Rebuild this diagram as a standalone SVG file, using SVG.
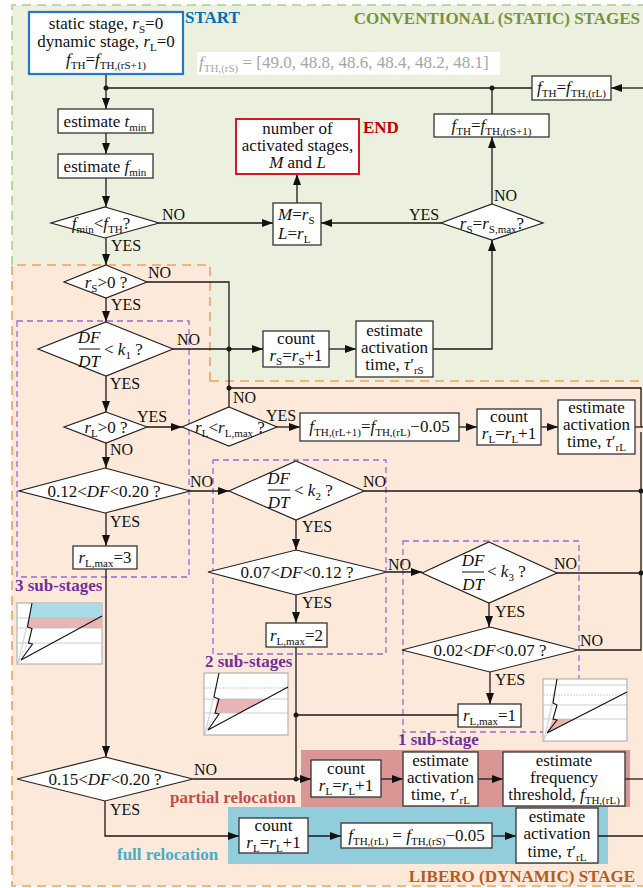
<svg xmlns="http://www.w3.org/2000/svg" width="643" height="888" viewBox="0 0 643 888">
<style>
.t{font-family:"Liberation Serif","Times New Roman",serif;font-size:17px;fill:#111;text-anchor:middle}
.ts{font-family:"Liberation Serif","Times New Roman",serif;font-size:17px;fill:#111}
.l{font-family:"Liberation Serif","Times New Roman",serif;font-size:16px;fill:#111}
.b{font-family:"Liberation Serif","Times New Roman",serif;font-size:17px;font-weight:bold}
.i{font-style:italic}
.s{font-size:11px}
.box{fill:#fff;stroke:#333;stroke-width:1.3}
.dia{fill:#fff;stroke:#222;stroke-width:1.2}
.ln{fill:none;stroke:#1a1a1a;stroke-width:1.3}
.ar{fill:none;stroke:#1a1a1a;stroke-width:1.3;marker-end:url(#a)}
.dot{fill:#1a1a1a}
.pur{fill:none;stroke:#9b6bd0;stroke-width:1.3;stroke-dasharray:6 4}
.grid{stroke:#bfbfbf;stroke-width:0.8;fill:none}
.fan{stroke:#c8c8c8;stroke-width:0.6;fill:none}
.chart{fill:#fff;stroke:#a6a6a6;stroke-width:1}
.zig{fill:none;stroke:#111;stroke-width:1.1}
</style>
<defs>
<marker id="a" viewBox="0 0 11 8" refX="11" refY="4" markerWidth="11" markerHeight="8" markerUnits="userSpaceOnUse" orient="auto"><path d="M0,0L11,4L0,8z" fill="#111"/></marker>
</defs>

<g id="backgrounds">
<rect x="12" y="5" width="631" height="376" fill="#ebf1de"/>
<path d="M12,265H210V381H643V886H12Z" fill="#fde9d9"/>
<path d="M12,265V5H643" fill="none" stroke="#a9d08e" stroke-width="1.6" stroke-dasharray="9 6"/>
<path d="M210,381V265H12V886H643M210,381H643" fill="none" stroke="#f2a15e" stroke-width="1.6" stroke-dasharray="9 6"/>
<rect x="301" y="750" width="329" height="57" fill="#d99694"/>
<rect x="228" y="807" width="380" height="57" fill="#92cddc"/>
<rect x="17" y="321" width="172" height="256" class="pur"/>
<rect x="213" y="460" width="173" height="194" class="pur"/>
<rect x="403" y="541" width="176" height="191" class="pur"/>
<rect x="197" y="52" width="303" height="23" fill="#fff"/>
</g>

<g id="titles">
<text x="185" y="23" class="b" fill="#0070c0">START</text>
<text x="640" y="24" class="b" fill="#76923c" text-anchor="end">CONVENTIONAL (STATIC) STAGES</text>
<text x="363" y="133" class="b" fill="#c00000">END</text>
<text x="15" y="591" class="b" fill="#7030a0">3 sub-stages</text>
<text x="205" y="667" class="b" fill="#7030a0">2 sub-stages</text>
<text x="398" y="745" class="b" fill="#7030a0">1 sub-stage</text>
<text x="170" y="803" class="b" fill="#c0504d">partial relocation</text>
<text x="117" y="860" class="b" fill="#4bacc6">full relocation</text>
<text x="635" y="882" class="b" fill="#b35c1e" text-anchor="end">LIBERO (DYNAMIC) STAGE</text>
<text x="199" y="68" class="ts" fill="#a6a6a6" style="fill:#a6a6a6"><tspan class="i">f</tspan><tspan class="s" dy="4">TH,(rS)</tspan><tspan dy="-4"> = [49.0, 48.8, 48.6, 48.4, 48.2, 48.1]</tspan></text>
</g>

<g id="connectors">
<path d="M106,74V109" class="ar"/>
<path d="M532,88H106" class="ln"/>
<path d="M643,88H611" class="ar"/>
<path d="M106,133V154" class="ar"/>
<path d="M106,178V207" class="ar"/>
<path d="M159,223H273" class="ar"/>
<path d="M297,203V174" class="ar"/>
<path d="M441,223H321" class="ar"/>
<path d="M492,204V137" class="ar"/>
<path d="M492,114V88" class="ln"/>
<path d="M106,238V265" class="ar"/>
<path d="M147,282H229V407" class="ln"/>
<path d="M106,298V322" class="ar"/>
<path d="M173,349H263" class="ar"/>
<path d="M329,349H356" class="ar"/>
<path d="M433,349H492V240" class="ar"/>
<path d="M106,376V412" class="ar"/>
<path d="M147,427H182" class="ar"/>
<path d="M277,427H300" class="ar"/>
<path d="M459,427H477" class="ar"/>
<path d="M541,427H558" class="ar"/>
<path d="M229,388H641V427" class="ln"/>
<path d="M635,427H643" class="ln"/>
<path d="M106,443V468" class="ar"/>
<path d="M190,491H229" class="ar"/>
<path d="M106,513V546" class="ar"/>
<path d="M106,569V757" class="ar"/>
<path d="M364,491H641" class="ln"/>
<path d="M296,520V550" class="ar"/>
<path d="M387,572H422" class="ar"/>
<path d="M296,595V623" class="ar"/>
<path d="M557,573H641" class="ln"/>
<path d="M489,603V627" class="ar"/>
<path d="M578,650H641V432" class="ln"/>
<path d="M490,672V704" class="ar"/>
<path d="M458,715H296" class="ln"/>
<path d="M296,647V779" class="ln"/>
<path d="M193,779H311" class="ar"/>
<path d="M381,779H403" class="ar"/>
<path d="M478,779H503" class="ar"/>
<path d="M625,779H643" class="ln"/>
<path d="M105,801V836H239" class="ar"/>
<path d="M308,836H341" class="ar"/>
<path d="M492,836H516" class="ar"/>
<path d="M598,836H643" class="ln"/>
<circle cx="106" cy="88" r="2.5" class="dot"/>
<circle cx="492" cy="88" r="2.5" class="dot"/>
<circle cx="229" cy="349" r="2.5" class="dot"/>
<circle cx="229" cy="388" r="2.5" class="dot"/>
<circle cx="641" cy="491" r="2.5" class="dot"/>
<circle cx="641" cy="573" r="2.5" class="dot"/>
<circle cx="296" cy="715" r="2.5" class="dot"/>
<circle cx="296" cy="779" r="2.5" class="dot"/>
</g>

<g id="start">
<rect x="29" y="12" width="154" height="62" fill="#fff" stroke="#1f78c8" stroke-width="2.2"/>
<text x="106" y="29" class="t">static stage, <tspan class="i">r</tspan><tspan class="s" dy="4">S</tspan><tspan dy="-4">=0</tspan></text>
<text x="106" y="47" class="t">dynamic stage, <tspan class="i">r</tspan><tspan class="s" dy="4">L</tspan><tspan dy="-4">=0</tspan></text>
<text x="106" y="65" class="t"><tspan class="i">f</tspan><tspan class="s" dy="4">TH</tspan><tspan dy="-4">=</tspan><tspan class="i">f</tspan><tspan class="s" dy="4">TH,(rS+1)</tspan></text>
</g>

<g id="est-tmin">
<rect x="58" y="109" width="95" height="24" class="box"/>
<text x="105" y="127" class="t">estimate <tspan class="i">t</tspan><tspan class="s" dy="4">min</tspan></text>
</g>
<g id="est-fmin">
<rect x="58" y="154" width="95" height="24" class="box"/>
<text x="105" y="172" class="t">estimate <tspan class="i">f</tspan><tspan class="s" dy="4">min</tspan></text>
</g>
<g id="d-fmin">
<polygon points="105,207 159,223 105,238 51,223" class="dia"/>
<text x="101" y="229" class="t"><tspan class="i">f</tspan><tspan class="s" dy="4">min</tspan><tspan dy="-4">&lt;</tspan><tspan class="i">f</tspan><tspan class="s" dy="4">TH</tspan><tspan dy="-4">?</tspan></text>
</g>
<g id="ml">
<rect x="273" y="203" width="48" height="42" class="box"/>
<text x="278" y="220" class="ts"><tspan class="i">M</tspan>=<tspan class="i">r</tspan><tspan class="s" dy="4">S</tspan></text>
<text x="278" y="239" class="ts"><tspan class="i">L</tspan>=<tspan class="i">r</tspan><tspan class="s" dy="4">L</tspan></text>
</g>
<g id="end">
<rect x="236" y="119" width="123" height="55" fill="#fff" stroke="#d01c1c" stroke-width="2"/>
<text x="297.5" y="134" class="t">number of</text>
<text x="297.5" y="151" class="t">activated stages,</text>
<text x="297.5" y="168" class="t"><tspan class="i">M</tspan> and <tspan class="i">L</tspan></text>
</g>
<g id="fth-rl">
<rect x="532" y="76" width="79" height="24" class="box"/>
<text x="571.5" y="93" class="t"><tspan class="i">f</tspan><tspan class="s" dy="4">TH</tspan><tspan dy="-4">=</tspan><tspan class="i">f</tspan><tspan class="s" dy="4">TH,(rL)</tspan></text>
</g>
<g id="fth-rs1">
<rect x="434" y="114" width="115" height="23" class="box"/>
<text x="491.5" y="131" class="t"><tspan class="i">f</tspan><tspan class="s" dy="4">TH</tspan><tspan dy="-4">=</tspan><tspan class="i">f</tspan><tspan class="s" dy="4">TH,(rS+1)</tspan></text>
</g>
<g id="d-rsmax">
<polygon points="492,204 543,223 492,240 441,223" class="dia"/>
<text x="492" y="229" class="t"><tspan class="i">r</tspan><tspan class="s" dy="4">S</tspan><tspan dy="-4">=</tspan><tspan class="i">r</tspan><tspan class="s" dy="4">S,max</tspan><tspan dy="-4">?</tspan></text>
</g>
<g id="d-rs0">
<polygon points="106,265 147,282 106,298 64,282" class="dia"/>
<text x="106" y="288" class="t"><tspan class="i">r</tspan><tspan class="s" dy="4">S</tspan><tspan dy="-4">&gt;0 ?</tspan></text>
</g>
<g id="d-k1">
<polygon points="106,322 173,349 106,376 38,349" class="dia"/>
<text x="89" y="343" class="t i">DF</text>
<path d="M79,349H100" stroke="#111" stroke-width="1"/>
<text x="89" y="367" class="t i">DT</text>
<text x="104" y="355" class="ts">&lt; <tspan class="i">k</tspan><tspan class="s" dy="4">1</tspan><tspan dy="-4"> ?</tspan></text>
</g>
<g id="count-rs">
<rect x="263" y="331" width="66" height="36" class="box"/>
<text x="296" y="344" class="t">count</text>
<text x="296" y="361" class="t"><tspan class="i">r</tspan><tspan class="s" dy="4">S</tspan><tspan dy="-4">=</tspan><tspan class="i">r</tspan><tspan class="s" dy="4">S</tspan><tspan dy="-4">+1</tspan></text>
</g>
<g id="act-rs">
<rect x="356" y="321" width="77" height="56" class="box"/>
<text x="394.5" y="336" class="t">estimate</text>
<text x="394.5" y="353" class="t">activation</text>
<text x="394.5" y="370" class="t">time, <tspan class="i">τ</tspan>′<tspan class="s" dy="4">rS</tspan></text>
</g>
<g id="d-rl0">
<polygon points="106,412 147,427 106,443 64,427" class="dia"/>
<text x="106" y="433" class="t"><tspan class="i">r</tspan><tspan class="s" dy="4">L</tspan><tspan dy="-4">&gt;0 ?</tspan></text>
</g>
<g id="d-rlmax">
<polygon points="229,407 277,427 229,446 182,427" class="dia"/>
<text x="230" y="433" class="t"><tspan class="i">r</tspan><tspan class="s" dy="4">L</tspan><tspan dy="-4">&lt;</tspan><tspan class="i">r</tspan><tspan class="s" dy="4">L,max</tspan><tspan dy="-4"> ?</tspan></text>
</g>
<g id="fth-next">
<rect x="300" y="413" width="159" height="28" class="box"/>
<text x="379.5" y="432" class="t"><tspan class="i">f</tspan><tspan class="s" dy="4">TH,(rL+1)</tspan><tspan dy="-4">=</tspan><tspan class="i">f</tspan><tspan class="s" dy="4">TH,(rL)</tspan><tspan dy="-4">−0.05</tspan></text>
</g>
<g id="count-rl1">
<rect x="477" y="409" width="64" height="36" class="box"/>
<text x="509" y="422" class="t">count</text>
<text x="509" y="439" class="t"><tspan class="i">r</tspan><tspan class="s" dy="4">L</tspan><tspan dy="-4">=</tspan><tspan class="i">r</tspan><tspan class="s" dy="4">L</tspan><tspan dy="-4">+1</tspan></text>
</g>
<g id="act-rl1">
<rect x="558" y="400" width="77" height="54" class="box"/>
<text x="596.5" y="413" class="t">estimate</text>
<text x="596.5" y="430" class="t">activation</text>
<text x="596.5" y="447" class="t">time, <tspan class="i">τ</tspan>′<tspan class="s" dy="4">rL</tspan></text>
</g>
<g id="d-012">
<polygon points="105,468 190,491 105,513 19,491" class="dia"/>
<text x="104" y="497" class="t">0.12&lt;<tspan class="i">DF</tspan>&lt;0.20 ?</text>
</g>
<g id="rlmax3">
<rect x="73" y="546" width="64" height="23" class="box"/>
<text x="105" y="563" class="t"><tspan class="i">r</tspan><tspan class="s" dy="4">L,max</tspan><tspan dy="-4">=3</tspan></text>
</g>
<g id="d-k2">
<polygon points="296,461 364,491 296,520 229,491" class="dia"/>
<text x="278.5" y="484" class="t i">DF</text>
<path d="M268,490H290" stroke="#111" stroke-width="1"/>
<text x="278.5" y="508" class="t i">DT</text>
<text x="294" y="496" class="ts">&lt; <tspan class="i">k</tspan><tspan class="s" dy="4">2</tspan><tspan dy="-4"> ?</tspan></text>
</g>
<g id="d-007">
<polygon points="296,550 387,572 296,595 208,572" class="dia"/>
<text x="297" y="578" class="t">0.07&lt;<tspan class="i">DF</tspan>&lt;0.12 ?</text>
</g>
<g id="rlmax2">
<rect x="266" y="623" width="61" height="24" class="box"/>
<text x="296.5" y="641" class="t"><tspan class="i">r</tspan><tspan class="s" dy="4">L,max</tspan><tspan dy="-4">=2</tspan></text>
</g>
<g id="d-k3">
<polygon points="489,542 557,573 489,603 422,573" class="dia"/>
<text x="473" y="566" class="t i">DF</text>
<path d="M462,572H484" stroke="#111" stroke-width="1"/>
<text x="473" y="590" class="t i">DT</text>
<text x="487" y="577" class="ts">&lt; <tspan class="i">k</tspan><tspan class="s" dy="4">3</tspan><tspan dy="-4"> ?</tspan></text>
</g>
<g id="d-002">
<polygon points="490,627 578,650 490,672 402,650" class="dia"/>
<text x="490" y="656" class="t">0.02&lt;<tspan class="i">DF</tspan>&lt;0.07 ?</text>
</g>
<g id="rlmax1">
<rect x="458" y="704" width="63" height="23" class="box"/>
<text x="489.5" y="721" class="t"><tspan class="i">r</tspan><tspan class="s" dy="4">L,max</tspan><tspan dy="-4">=1</tspan></text>
</g>
<g id="d-015">
<polygon points="105,757 193,779 105,801 17,779" class="dia"/>
<text x="105" y="785" class="t">0.15&lt;<tspan class="i">DF</tspan>&lt;0.20 ?</text>
</g>
<g id="count-partial">
<rect x="311" y="760" width="70" height="37" class="box"/>
<text x="346" y="774" class="t">count</text>
<text x="346" y="791" class="t"><tspan class="i">r</tspan><tspan class="s" dy="4">L</tspan><tspan dy="-4">=</tspan><tspan class="i">r</tspan><tspan class="s" dy="4">L</tspan><tspan dy="-4">+1</tspan></text>
</g>
<g id="act-partial">
<rect x="403" y="752" width="75" height="54" class="box"/>
<text x="440.5" y="766" class="t">estimate</text>
<text x="440.5" y="783" class="t">activation</text>
<text x="440.5" y="800" class="t">time, <tspan class="i">τ</tspan>′<tspan class="s" dy="4">rL</tspan></text>
</g>
<g id="freq-partial">
<rect x="503" y="752" width="122" height="54" class="box"/>
<text x="564" y="766" class="t">estimate</text>
<text x="564" y="783" class="t">frequency</text>
<text x="564" y="800" class="t">threshold, <tspan class="i">f</tspan><tspan class="s" dy="4">TH,(rL)</tspan></text>
</g>
<g id="count-full">
<rect x="239" y="818" width="69" height="35" class="box"/>
<text x="273.5" y="831" class="t">count</text>
<text x="273.5" y="848" class="t"><tspan class="i">r</tspan><tspan class="s" dy="4">L</tspan><tspan dy="-4">=</tspan><tspan class="i">r</tspan><tspan class="s" dy="4">L</tspan><tspan dy="-4">+1</tspan></text>
</g>
<g id="fth-full">
<rect x="341" y="823" width="151" height="25" class="box"/>
<text x="416.5" y="841" class="t"><tspan class="i">f</tspan><tspan class="s" dy="4">TH,(rL)</tspan><tspan dy="-4"> = </tspan><tspan class="i">f</tspan><tspan class="s" dy="4">TH,(rS)</tspan><tspan dy="-4">−0.05</tspan></text>
</g>
<g id="act-full">
<rect x="516" y="808" width="82" height="55" class="box"/>
<text x="557" y="822" class="t">estimate</text>
<text x="557" y="839" class="t">activation</text>
<text x="557" y="857" class="t">time, <tspan class="i">τ</tspan>′<tspan class="s" dy="4">rL</tspan></text>
</g>

<g id="labels">
<text x="162" y="220" class="l">NO</text>
<text x="111" y="251" class="l">YES</text>
<text x="409" y="220" class="l">YES</text>
<text x="494" y="201" class="l">NO</text>
<text x="148" y="278" class="l">NO</text>
<text x="111" y="310" class="l">YES</text>
<text x="177" y="345" class="l">NO</text>
<text x="110" y="389" class="l">YES</text>
<text x="137" y="422" class="l">YES</text>
<text x="233" y="403" class="l">NO</text>
<text x="266" y="421" class="l">YES</text>
<text x="110" y="455" class="l">NO</text>
<text x="190" y="487" class="l">NO</text>
<text x="110" y="527" class="l">YES</text>
<text x="363" y="487" class="l">NO</text>
<text x="302" y="532" class="l">YES</text>
<text x="388" y="570" class="l">NO</text>
<text x="302" y="608" class="l">YES</text>
<text x="554" y="569" class="l">NO</text>
<text x="495" y="617" class="l">YES</text>
<text x="580" y="646" class="l">NO</text>
<text x="495" y="685" class="l">YES</text>
<text x="194" y="775" class="l">NO</text>
<text x="110" y="815" class="l">YES</text>
</g>

<g id="chart3sub">
<rect x="17" y="603" width="85" height="61" class="chart"/>
<polygon points="32,603 102,603 102,618 29,618" fill="#a9dbe8"/>
<polygon points="29,618 102,618 102,628 27,628" fill="#e8b4b4"/>
<path d="M17,618H102M17,628H102M17,643H102" class="grid"/>
<path d="M18,663L32,603M18,663L27,627M18,663L28,643M18,663L21,660" class="fan"/>
<polyline points="32,603 27.5,627 32,628.5 28.5,643 32.5,644 21,660 102,616" class="zig"/>
</g>
<g id="chart2sub">
<rect x="204" y="673" width="84" height="62" class="chart"/>
<polygon points="217,699 266,699 240,713 215,713" fill="#e8b4b4"/>
<path d="M204,688H288" class="grid" stroke-dasharray="2 1"/>
<path d="M204,699H288M204,713H288" class="grid"/>
<path d="M205,734L219,673M205,734L214,697M205,734L215,713" class="fan"/>
<polyline points="219,673 214,697 219,699 215,713 219,714 208,730 288,687" class="zig"/>
</g>
<g id="chart1sub">
<rect x="543" y="679" width="84" height="62" class="chart"/>
<polygon points="553,719 574,719 547,733" fill="#e8b4b4"/>
<path d="M543,695H627" class="grid" stroke-dasharray="2 1"/>
<path d="M543,685H627M543,705H627M543,719H627" class="grid"/>
<path d="M544,740L557,679M544,740L553,703M544,740L553,719" class="fan"/>
<polyline points="557,679 553,703 557,705 553,719 557,720 547,733 627,692" class="zig"/>
</g>
</svg>
